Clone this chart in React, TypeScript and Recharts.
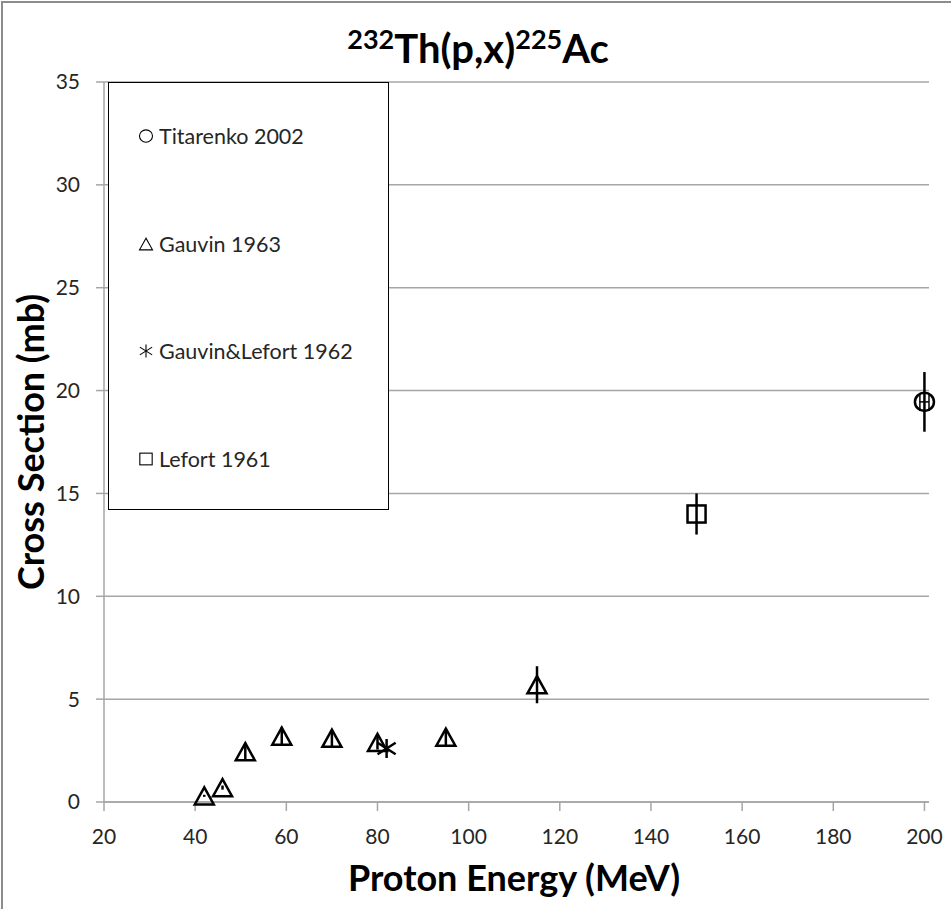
import React from 'react';
import { ScatterChart, Scatter, XAxis, YAxis, CartesianGrid, ErrorBar, Legend } from 'recharts';

const FONT = 'Lato, "Liberation Sans", sans-serif';
const INK = '#000';
const TEXT = '#262626';
const GRID = '#a6a6a6';

// Gauvin 1963
const gauvinEnergy = [42, 46, 51, 59, 70, 80, 95, 115];
const gauvinSigma = [0.3, 0.7, 2.45, 3.2, 3.1, 2.9, 3.15, 5.7];
const gauvinErr = [0.05, 0.1, 0.4, 0.45, 0.4, 0.35, 0.4, 0.9];

// Gauvin & Lefort 1962
const gauvinLefortEnergy = [82];
const gauvinLefortSigma = [2.6];

// Lefort 1961
const lefortEnergy = [150];
const lefortSigma = [14.0];
const lefortErr = [1.0];

// Titarenko 2002
const titarenkoEnergy = [200];
const titarenkoSigma = [19.45];
const titarenkoErr = [1.45];
const titarenkoEnergyErr = [1.0];

const xTicks = [20, 40, 60, 80, 100, 120, 140, 160, 180, 200];
const yTicks = [0, 5, 10, 15, 20, 25, 30, 35];

const legendNames = ['Titarenko 2002', 'Gauvin 1963', 'Gauvin&Lefort 1962', 'Lefort 1961'];
const legendKinds = ['circle', 'triangle', 'star', 'square'];

const toPoints = (xs: number[], ys: number[], errs?: number[], xErrs?: number[]) =>
  xs.map((x, i) => ({ x, y: ys[i], err: errs ? errs[i] : 0, xErr: xErrs ? xErrs[i] : 0 }));

const gauvinData = toPoints(gauvinEnergy, gauvinSigma, gauvinErr);
const gauvinLefortData = toPoints(gauvinLefortEnergy, gauvinLefortSigma);
const lefortData = toPoints(lefortEnergy, lefortSigma, lefortErr);
const titarenkoData = toPoints(titarenkoEnergy, titarenkoSigma, titarenkoErr, titarenkoEnergyErr);

// hollow markers, error bars show through
const Marker = ({ kind, cx, cy, r, sw }: { kind: string; cx: number; cy: number; r: number; sw: number }) => {
  const common = { fill: 'none', stroke: INK, strokeWidth: sw };
  if (kind === 'circle') return <ellipse cx={cx} cy={cy} rx={r} ry={r * 0.95} {...common} />;
  if (kind === 'square') return <rect x={cx - r * 0.95} y={cy - r * 0.9} width={r * 1.9} height={r * 1.8} {...common} />;
  if (kind === 'triangle')
    return (
      <polygon
        points={`${cx},${cy - r * 0.9} ${cx - r},${cy + r * 0.9} ${cx + r},${cy + r * 0.9}`}
        {...common}
      />
    );
  return (
    <g {...common}>
      <line x1={cx} y1={cy - r} x2={cx} y2={cy + r} />
      <line x1={cx - r * 0.95} y1={cy - r * 0.6} x2={cx + r * 0.95} y2={cy + r * 0.6} />
      <line x1={cx - r * 0.95} y1={cy + r * 0.6} x2={cx + r * 0.95} y2={cy - r * 0.6} />
    </g>
  );
};

const shapeOf = (kind: string) => (props: any) => <Marker kind={kind} cx={props.cx} cy={props.cy} r={9.5} sw={2.5} />;

const renderLegend = () => (
  <div
    style={{
      width: 281,
      height: 428,
      boxSizing: 'border-box',
      border: '1.3px solid #000',
      background: '#fff',
      position: 'relative',
      fontFamily: FONT,
      fontSize: 21.5,
      color: TEXT,
    }}
  >
    {legendNames.map((name, i) => (
      <div
        key={name}
        style={{ position: 'absolute', left: 29, top: 40 + i * 107.5, height: 26, display: 'flex', alignItems: 'center' }}
      >
        <svg width={16} height={16} style={{ marginRight: 5 }}>
          <Marker kind={legendKinds[i]} cx={8} cy={8} r={6.5} sw={1.1} />
        </svg>
        <span>{name}</span>
      </div>
    ))}
  </div>
);

export default function App() {
  return (
    <div style={{ position: 'absolute', left: 0, top: 0, width: 951, height: 909, background: '#fff', overflow: 'hidden' }}>
      <div
        style={{
          position: 'absolute',
          left: 1,
          top: 1,
          width: 960,
          height: 920,
          borderLeft: '2px solid #8c8c8c',
          borderTop: '2px solid #8c8c8c',
          pointerEvents: 'none',
        }}
      />
      <ScatterChart width={951} height={909} margin={{ top: 82, right: 22, bottom: 77, left: 0 }}>
        <CartesianGrid vertical={false} stroke={GRID} strokeWidth={1.5} />
        <XAxis
          type="number"
          dataKey="x"
          domain={[20, 200]}
          ticks={xTicks}
          height={30}
          tickSize={9}
          tickMargin={18}
          stroke={GRID}
          strokeWidth={1.5}
          tick={{ fill: TEXT, fontSize: 21, fontFamily: FONT }}
        />
        <YAxis
          type="number"
          dataKey="y"
          domain={[0, 35]}
          ticks={yTicks}
          width={104}
          tickSize={8}
          tickMargin={16}
          stroke={GRID}
          strokeWidth={1.5}
          tick={{ fill: TEXT, fontSize: 21, fontFamily: FONT }}
        />
        <Legend
          layout="horizontal"
          verticalAlign="middle"
          align="center"
          content={renderLegend}
          wrapperStyle={{ left: 108, top: 82, width: 281, height: 428 }}
        />
        <Scatter name="Gauvin 1963" data={gauvinData} shape={shapeOf('triangle')} isAnimationActive={false}>
          <ErrorBar dataKey="err" direction="y" width={0} stroke={INK} strokeWidth={2.5} />
        </Scatter>
        <Scatter name="Gauvin&Lefort 1962" data={gauvinLefortData} shape={shapeOf('star')} isAnimationActive={false} />
        <Scatter name="Lefort 1961" data={lefortData} shape={shapeOf('square')} isAnimationActive={false}>
          <ErrorBar dataKey="err" direction="y" width={0} stroke={INK} strokeWidth={2.5} />
        </Scatter>
        <Scatter name="Titarenko 2002" data={titarenkoData} shape={shapeOf('circle')} isAnimationActive={false}>
          <ErrorBar dataKey="err" direction="y" width={0} stroke={INK} strokeWidth={2.5} />
          <ErrorBar dataKey="xErr" direction="x" width={9} stroke={INK} strokeWidth={1.5} />
        </Scatter>
        <text x={478} y={63} textAnchor="middle" fontFamily={FONT} fontWeight="bold" fontSize={40} fill="#000">
          <tspan fontSize={27} dy={-14}>232</tspan>
          <tspan dy={14}>Th(p,x)</tspan>
          <tspan fontSize={27} dy={-14}>225</tspan>
          <tspan dy={14}>Ac</tspan>
        </text>
        <text x={514} y={891} textAnchor="middle" fontFamily={FONT} fontWeight="bold" fontSize={36} fill="#000">
          Proton Energy (MeV)
        </text>
        <text
          x={30}
          y={442}
          transform="rotate(-90 30 442)"
          textAnchor="middle"
          dominantBaseline="central"
          fontFamily={FONT}
          fontWeight="bold"
          fontSize={36}
          fill="#000"
        >
          Cross Section (mb)
        </text>
      </ScatterChart>
    </div>
  );
}
